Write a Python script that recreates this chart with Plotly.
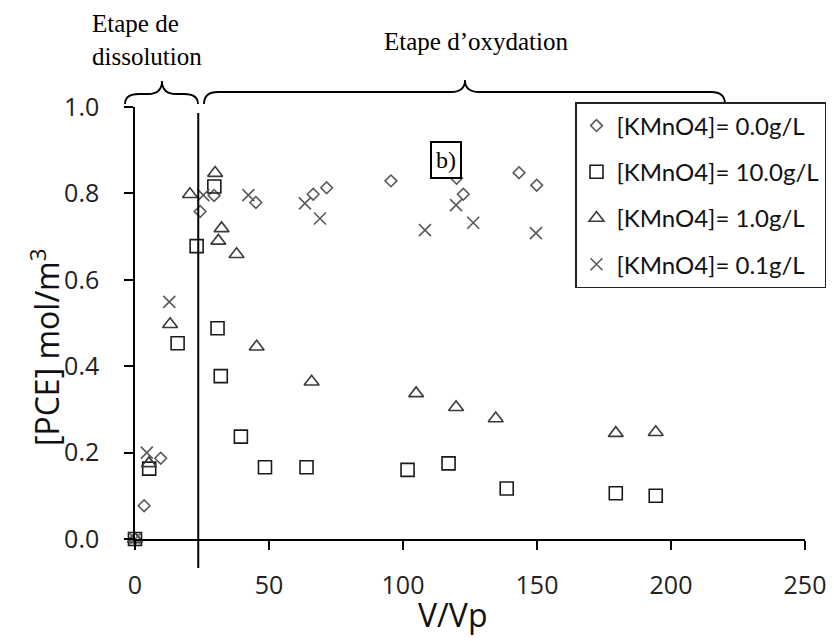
import plotly.graph_objects as go

# ---- data ----
v_00 = [0, 3.4, 9.6, 24.3, 29.5, 45.1, 66.5, 71.5, 95.5, 120.0, 122.5, 143.3, 149.9]
c_00 = [0, 0.077, 0.187, 0.758, 0.795, 0.779, 0.798, 0.813, 0.829, 0.835, 0.798, 0.848, 0.819]

v_10 = [0, 5.3, 15.9, 23.0, 29.6, 30.8, 32.0, 39.5, 48.5, 64.0, 101.7, 117.0, 138.7, 179.4, 194.3]
c_10 = [0, 0.163, 0.453, 0.678, 0.816, 0.488, 0.377, 0.237, 0.166, 0.166, 0.160, 0.175, 0.117, 0.106, 0.100]

v_1 = [0, 5.2, 13.1, 20.5, 29.9, 32.3, 31.1, 37.9, 45.4, 65.9, 104.9, 119.8, 134.6, 179.4, 194.3]
c_1 = [0, 0.175, 0.497, 0.798, 0.847, 0.719, 0.690, 0.659, 0.445, 0.364, 0.337, 0.305, 0.279, 0.245, 0.247]

v_01 = [0, 4.4, 12.8, 25.5, 42.3, 63.4, 69.0, 108.2, 119.8, 126.2, 149.6]
c_01 = [0, 0.200, 0.549, 0.796, 0.796, 0.777, 0.742, 0.715, 0.773, 0.732, 0.708]

names = ["[KMnO4]= 0.0g/L", "[KMnO4]= 10.0g/L", "[KMnO4]= 1.0g/L", "[KMnO4]= 0.1g/L"]
x_ticks = [0, 50, 100, 150, 200, 250]
y_ticks = [0.0, 0.2, 0.4, 0.6, 0.8, 1.0]
separator_v = 23.6

SANS = "Open Sans"
SERIF = "Liberation Serif"

fig = go.Figure()
series = [
    (v_00, c_00, names[0], "diamond-open", 9, "#5a5a5a"),
    (v_10, c_10, names[1], "square-open", 13, "#1a1a1a"),
    (v_1, c_1, names[2], "triangle-up-open", 13, "#3a3a3a"),
    (v_01, c_01, names[3], "x-thin-open", 12, "#5a5a5a"),
]
for i, (xs, ys, nm, sym, sz, col) in enumerate(series):
    fig.add_trace(go.Scatter(
        x=xs, y=ys, mode="markers", name=nm, legendgroup=f"g{i}",
        marker=dict(symbol=sym, size=sz, color=col, line=dict(width=1.6, color=col)),
        cliponaxis=False,
    ))

OFF = 8  # page body margin
W, H = 834, 641
# desired plot box in page pixels: x 135..805, y 107..539
L = 135 - OFF
T = 107 - OFF
R = W - (805 - OFF)
B = H - (539 - OFF)
pw, ph = W - L - R, H - T - B

def px(xp):
    return (xp - OFF - L) / pw

def py(yp):
    return (H - B - (yp - OFF)) / ph

# vertical separator
fig.add_shape(type="line", xref="x", yref="paper", x0=separator_v, x1=separator_v,
              y0=py(568), y1=py(113), line=dict(color="black", width=2))

def brace(x0, x1, xm, ytop, yend, ypk):
    r = 7
    d = (f"M {px(x0)},{py(yend)} Q {px(x0)},{py(ytop)} {px(x0 + r*2)},{py(ytop)} "
         f"L {px(xm - r*2)},{py(ytop)} Q {px(xm)},{py(ytop)} {px(xm)},{py(ypk)} "
         f"Q {px(xm)},{py(ytop)} {px(xm + r*2)},{py(ytop)} "
         f"L {px(x1 - r*2)},{py(ytop)} Q {px(x1)},{py(ytop)} {px(x1)},{py(yend)}")
    fig.add_shape(type="path", xref="paper", yref="paper", path=d,
                  line=dict(color="black", width=1.8))

brace(125, 198, 162, 94, 104, 81)
brace(204, 725, 465, 92, 104, 80)

def note(xp, yp, text, font, **kw):
    fig.add_annotation(xref="paper", yref="paper", x=px(xp), y=py(yp), text=text,
                       showarrow=False, font=font, yanchor="middle",
                       **({"xanchor": "center"} | kw))

note(90, 40, "Etape de<br>dissolution", dict(family=SERIF, size=25, color="black"),
     xanchor="left", align="left")
note(476, 42, "Etape d’oxydation", dict(family=SERIF, size=25, color="black"))
note(446, 160, "b)", dict(family=SERIF, size=24, color="black"),
     bordercolor="black", borderwidth=2, borderpad=4, bgcolor="white")
# axis titles
note(452, 614, "V/Vp", dict(family=SANS, size=32, color="#111"))
note(45, 347, "[PCE] mol/m<sup>3</sup>", dict(family=SANS, size=32, color="#111"), textangle=-90)

fig.update_layout(
    width=W, height=H,
    margin=dict(l=L, r=R, t=T, b=B),
    paper_bgcolor="white", plot_bgcolor="white",
    font=dict(family=SANS, color="#222"),
    legend=dict(x=px(575), y=py(102), xanchor="left", yanchor="top",
                bordercolor="#222", borderwidth=1.5, bgcolor="white",
                font=dict(family="Lato", size=24, color="#111"),
                tracegroupgap=12, itemwidth=30),
    xaxis=dict(range=[0, 250], tickvals=x_ticks, ticktext=[str(t) for t in x_ticks],
               showgrid=False, zeroline=False, showline=True, linecolor="black", linewidth=1.5,
               ticks="outside", ticklen=9, tickwidth=1.5, tickcolor="black",
               ticklabelstandoff=14,
               tickfont=dict(family=SANS, size=25, color="#222")),
    yaxis=dict(range=[0, 1.0], tickvals=y_ticks, ticktext=[f"{t:.1f}" for t in y_ticks],
               showgrid=False, zeroline=False, showline=True, linecolor="black", linewidth=1.5,
               ticks="outside", ticklen=9, tickwidth=1.5, tickcolor="black",
               ticklabelstandoff=20,
               tickfont=dict(family=SANS, size=25, color="#222")),
)

fig.write_html("out.html")
